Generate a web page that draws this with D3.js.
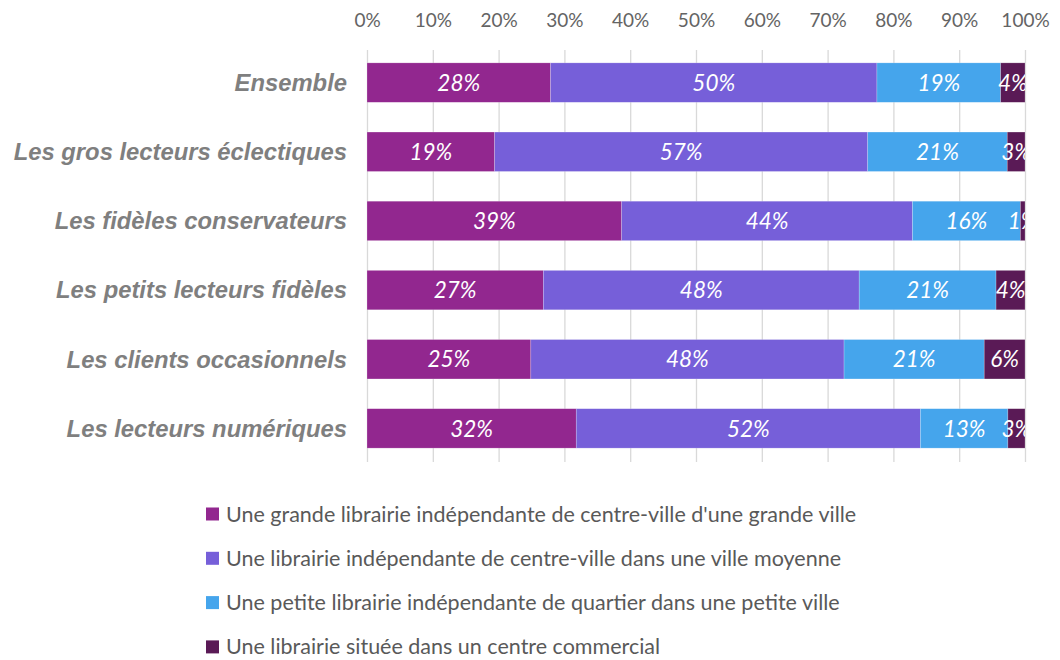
<!DOCTYPE html>
<html>
<head>
<meta charset="utf-8">
<script src="https://cdn.jsdelivr.net/npm/d3@7"></script>
<style>
  html, body { margin: 0; padding: 0; background: #fff; }
  svg { display: block; }
</style>
</head>
<body>
<svg id="chart" width="1060" height="660"></svg>
<script>
// Profiles of book buyers
const categories = [
  "Ensemble",
  "Les gros lecteurs éclectiques",
  "Les fidèles conservateurs",
  "Les petits lecteurs fidèles",
  "Les clients occasionnels",
  "Les lecteurs numériques"
];

// Preferred kind of bookshop, share of each profile (%)
const seriesNames = [
  "Une grande librairie indépendante de centre-ville d'une grande ville",
  "Une librairie indépendante de centre-ville dans une ville moyenne",
  "Une petite librairie indépendante de quartier dans une petite ville",
  "Une librairie située dans un centre commercial"
];
const grandeVille   = [27.9, 19.4, 38.7, 26.8, 24.9, 31.8];
const villeMoyenne  = [49.6, 56.7, 44.2, 48.0, 47.6, 52.3];
const petiteVille   = [18.8, 21.2, 16.4, 20.8, 21.3, 13.3];
const centreComm    = [3.7, 2.7, 0.7, 4.4, 6.2, 2.6];

const tickValues = [0, 10, 20, 30, 40, 50, 60, 70, 80, 90, 100];
const colors = ["#92278f", "#765fd9", "#45a5ec", "#5a1a56"];

const rows = categories.map((c, i) => ({
  cat: c,
  s0: grandeVille[i], s1: villeMoyenne[i], s2: petiteVille[i], s3: centreComm[i]
}));
const keys = ["s0", "s1", "s2", "s3"];
const stacked = d3.stack().keys(keys)(rows);

const svg = d3.select("#chart");
const margin = { top: 48, right: 35, bottom: 197, left: 367 };
const W = 1060 - margin.left - margin.right;
const H = 660 - margin.top - margin.bottom;

const x = d3.scaleLinear().domain([0, 100]).range([0, W]);
const y = d3.scaleBand().domain(categories).range([0, H]).paddingInner(0.43).paddingOuter(0.215);

const g = svg.append("g").attr("transform", `translate(${margin.left},${margin.top})`);

svg.append("defs").append("clipPath").attr("id", "plotClip")
  .append("rect").attr("x", -5).attr("y", -10).attr("width", W + 5).attr("height", H + 20);

// vertical gridlines
g.append("g").selectAll("line").data(tickValues).join("line")
  .attr("x1", d => x(d) + 0.5).attr("x2", d => x(d) + 0.5)
  .attr("y1", 2).attr("y2", H - 1)
  .attr("stroke", "#d9d9d9").attr("stroke-width", 1.3);

// top axis
const xAxis = g.append("g")
  .attr("transform", "translate(0,-18)")
  .call(d3.axisTop(x).tickValues(tickValues).tickFormat(d => d + "%").tickSize(0));
xAxis.select(".domain").remove();
xAxis.selectAll("text")
  .attr("fill", "#646464")
  .style("font-family", "Lato, 'Open Sans', sans-serif")
  .style("font-size", "19px");

// category axis
const yAxis = g.append("g")
  .call(d3.axisLeft(y).tickSize(0).tickPadding(20));
yAxis.select(".domain").remove();
yAxis.selectAll("text")
  .attr("fill", "#7f7f7f")
  .attr("dy", "0.35em")
  .style("font-family", "'Liberation Sans', Arial, sans-serif")
  .style("font-weight", "bold")
  .style("font-style", "italic")
  .style("font-size", "23.8px");

// stacked bars
const layers = g.append("g").selectAll("g").data(stacked).join("g")
  .attr("fill", (d, i) => colors[i]);

layers.selectAll("rect").data(d => d).join("rect")
  .attr("x", d => x(d[0]))
  .attr("y", d => y(d.data.cat))
  .attr("width", d => x(d[1]) - x(d[0]))
  .attr("height", y.bandwidth())
  .attr("stroke", "#ffffff")
  .attr("stroke-opacity", 0.35)
  .attr("stroke-width", 0.6);

// value labels
const labels = g.append("g").attr("clip-path", "url(#plotClip)");
stacked.forEach(layer => {
  labels.selectAll(null).data(layer).join("text")
    .attr("x", d => x((d[0] + d[1]) / 2))
    .attr("y", d => y(d.data.cat) + y.bandwidth() / 2)
    .attr("dy", "0.36em")
    .attr("text-anchor", "middle")
    .attr("fill", "#ffffff")
    .style("font-family", "Lato, 'Open Sans', sans-serif")
    .style("font-style", "italic")
    .style("font-size", "22.5px")
    .text(d => Math.round(d[1] - d[0]) + "%");
});

// legend
const legend = svg.append("g").attr("transform", "translate(206,514)");
const item = legend.selectAll("g").data(seriesNames).join("g")
  .attr("transform", (d, i) => `translate(0,${i * 44.3})`);
item.append("rect")
  .attr("x", 0).attr("y", -6.5).attr("width", 13).attr("height", 13)
  .attr("fill", (d, i) => colors[i]);
item.append("text")
  .attr("x", 20).attr("y", 0).attr("dy", "0.35em")
  .attr("fill", "#595959")
  .style("font-family", "Lato, 'Open Sans', sans-serif")
  .style("font-size", "21.5px")
  .text(d => d);
</script>
</body>
</html>
